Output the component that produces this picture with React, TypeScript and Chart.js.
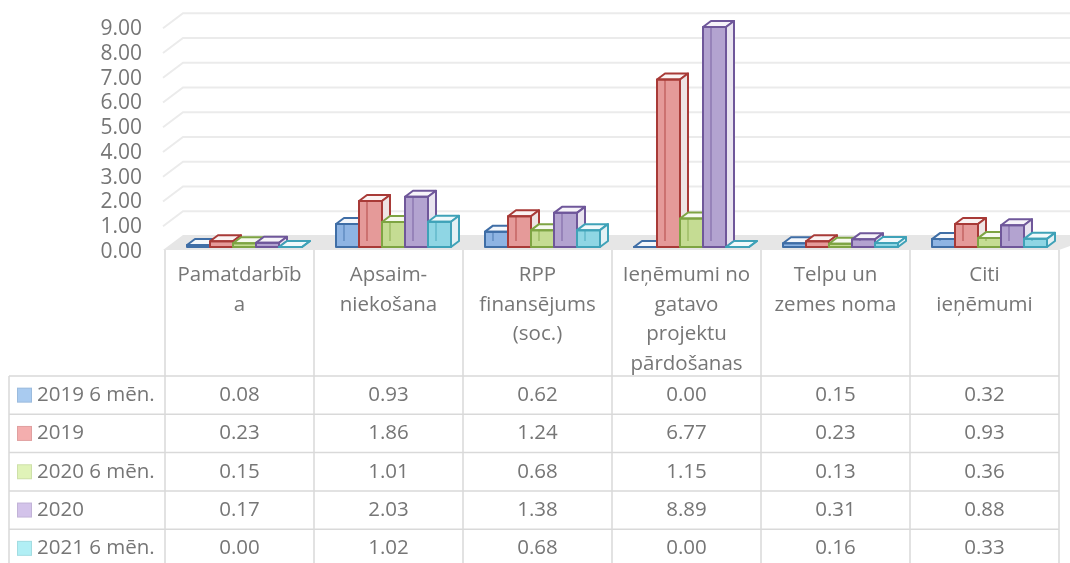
import React, { useEffect, useRef } from "react";
import { Chart, registerables } from "chart.js";

Chart.register(...registerables);

// ---------- DATA ----------
const categories: string[][] = [
  ["Pamatdarbīb", "a"],
  ["Apsaim-", "niekošana"],
  ["RPP", "finansējums", "(soc.)"],
  ["Ieņēmumi no", "gatavo", "projektu", "pārdošanas"],
  ["Telpu un", "zemes noma"],
  ["Citi", "ieņēmumi"],
];
const seriesNames = ["2019 6 mēn.", "2019", "2020 6 mēn.", "2020", "2021 6 mēn."];
const s2019h1 = [0.08, 0.93, 0.62, 0.0, 0.15, 0.32];
const s2019 = [0.23, 1.86, 1.24, 6.77, 0.23, 0.93];
const s2020h1 = [0.15, 1.01, 0.68, 1.15, 0.13, 0.36];
const s2020 = [0.17, 2.03, 1.38, 8.89, 0.31, 0.88];
const s2021h1 = [0.0, 1.02, 0.68, 0.0, 0.16, 0.33];
const yTicks = [0, 1, 2, 3, 4, 5, 6, 7, 8, 9];

// ---------- STYLE ----------
const FONT = "'Open Sans', 'DejaVu Sans', sans-serif";
const TEXT = "#767676";
const FS = 20.5;
const fronts = ["#8eb4e3", "#e59a99", "#c5dc93", "#b3a3d0", "#8fd6e4"];
const borders = ["#3f6ea6", "#a83a37", "#7ea443", "#6f579a", "#3fa2b8"];
const tops = ["#f4f7fb", "#faf3f3", "#f6f9ef", "#f6f3f9", "#f1f9fb"];
const sides = ["#e6ecf4", "#eee4e4", "#ecf1e2", "#e9e4f0", "#e3f1f4"];
const swatches = ["#a9cbf0", "#f4aeae", "#e0f3b8", "#d3c3ea", "#b1eff5"];
const allSeries = [s2019h1, s2019, s2020h1, s2020, s2021h1];

const SHIFT = 5; // bar group offset vs table columns
const DX = 8;
const DY = -6;

const threeD = {
  id: "threeD",
  beforeDatasetsDraw(chart: any) {
    const ctx = chart.ctx as CanvasRenderingContext2D;
    const ys = chart.scales.y;
    const area = chart.chartArea;
    const y0 = ys.getPixelForValue(0);
    const wallX = area.left - SHIFT - 2;
    const W = chart.width;
    ctx.save();
    // floor
    ctx.fillStyle = "#e6e6e6";
    ctx.beginPath();
    ctx.moveTo(wallX, y0 + 3);
    ctx.lineTo(wallX + 20, y0 - 12);
    ctx.lineTo(W + 30, y0 - 12);
    ctx.lineTo(area.right - SHIFT, y0 + 3);
    ctx.closePath();
    ctx.fill();
    // gridlines
    ctx.strokeStyle = "#ebebeb";
    ctx.lineWidth = 2;
    for (const v of yTicks) {
      if (v === 0) continue;
      const by = ys.getPixelForValue(v) - 11;
      ctx.beginPath();
      ctx.moveTo(wallX, by + 15);
      ctx.lineTo(wallX + 20, by);
      ctx.lineTo(W, by);
      ctx.stroke();
    }
    // y tick labels, aligned with the front-left end of each gridline
    ctx.fillStyle = TEXT;
    ctx.font = `21px ${FONT}`;
    ctx.textAlign = "right";
    ctx.textBaseline = "middle";
    for (const v of yTicks) {
      ctx.fillText(v.toFixed(2), 142, ys.getPixelForValue(v) + 5);
    }
    // boxes
    const metas = chart.data.datasets.map((_: any, i: number) => chart.getDatasetMeta(i));
    const n = chart.data.labels.length;
    ctx.lineJoin = "round";
    for (let c = 0; c < n; c++) {
      for (let d = 0; d < metas.length; d++) {
        const el = metas[d].data[c];
        const p = el.getProps(["x", "y", "base", "width"], true);
        const l = p.x - p.width / 2;
        const r = p.x + p.width / 2;
        const t = p.y;
        const b = p.base;
        ctx.fillStyle = fronts[d];
        ctx.fillRect(l, t, r - l, b - t);
        if (b - t > 4) {
          ctx.strokeStyle = borders[d];
          ctx.globalAlpha = 0.6;
          ctx.lineWidth = 1.4;
          ctx.beginPath();
          ctx.moveTo(l + DX, t + DY);
          ctx.lineTo(l + DX, b + DY);
          ctx.stroke();
          ctx.globalAlpha = 1;
        }
        ctx.lineWidth = 2;
        ctx.strokeStyle = borders[d];
        ctx.fillStyle = tops[d];
        ctx.beginPath();
        ctx.moveTo(l, t);
        ctx.lineTo(l + DX, t + DY);
        ctx.lineTo(r + DX, t + DY);
        ctx.lineTo(r, t);
        ctx.closePath();
        ctx.fill();
        ctx.stroke();
        ctx.fillStyle = sides[d];
        ctx.beginPath();
        ctx.moveTo(r, t);
        ctx.lineTo(r + DX, t + DY);
        ctx.lineTo(r + DX, b + DY);
        ctx.lineTo(r, b);
        ctx.closePath();
        ctx.fill();
        ctx.stroke();
        ctx.strokeRect(l, t, r - l, b - t);
      }
    }
    ctx.restore();
    return false;
  },
};

const dataTable = {
  id: "dataTable",
  afterDraw(chart: any) {
    const ctx = chart.ctx as CanvasRenderingContext2D;
    const xs = chart.scales.x;
    const ys = chart.scales.y;
    const n = categories.length;
    const catW = xs.width / n;
    const colL = (i: number) => xs.left - SHIFT + i * catW;
    const top = ys.getPixelForValue(0) + 3;
    const headH = 126;
    const rowH = 38.3;
    const leftX = 9;
    const rowsTop = top + headH;
    const bottom = rowsTop + rowH * seriesNames.length;
    ctx.save();
    ctx.strokeStyle = "#d9d9d9";
    ctx.lineWidth = 1.5;
    for (let i = 0; i <= n; i++) {
      const x = colL(i);
      ctx.beginPath();
      ctx.moveTo(x, top);
      ctx.lineTo(x, bottom);
      ctx.stroke();
    }
    ctx.beginPath();
    ctx.moveTo(leftX, rowsTop);
    ctx.lineTo(leftX, bottom);
    ctx.stroke();
    for (let r = 0; r <= seriesNames.length; r++) {
      const y = rowsTop + r * rowH;
      ctx.beginPath();
      ctx.moveTo(leftX, y);
      ctx.lineTo(colL(n), y);
      ctx.stroke();
    }
    ctx.fillStyle = TEXT;
    ctx.font = `${FS}px ${FONT}`;
    ctx.textBaseline = "middle";
    ctx.textAlign = "center";
    categories.forEach((lines, i) => {
      const cx = colL(i) + catW / 2;
      lines.forEach((ln, k) => {
        ctx.fillText(ln, cx, top + 25 + k * 29.7);
      });
    });
    seriesNames.forEach((name, r) => {
      const cy = rowsTop + r * rowH + rowH / 2;
      ctx.fillStyle = swatches[r];
      ctx.fillRect(17, cy - 7.5, 15, 15);
      ctx.strokeStyle = "rgba(0,0,0,0.08)";
      ctx.lineWidth = 1;
      ctx.strokeRect(17.5, cy - 7, 14, 14);
      ctx.fillStyle = TEXT;
      ctx.textAlign = "left";
      ctx.fillText(name, 37, cy);
      ctx.textAlign = "center";
      allSeries[r].forEach((v, i) => {
        ctx.fillText(v.toFixed(2), colL(i) + catW / 2, cy);
      });
    });
    ctx.restore();
  },
};

export default function App() {
  const ref = useRef<HTMLCanvasElement | null>(null);
  useEffect(() => {
    if (!ref.current) return;
    const chart = new Chart(ref.current, {
      type: "bar",
      data: {
        labels: categories,
        datasets: seriesNames.map((name, i) => ({
          label: name,
          data: allSeries[i],
          backgroundColor: fronts[i],
          borderColor: borders[i],
          categoryPercentage: 115 / 149,
          barPercentage: 1,
        })),
      },
      options: {
        responsive: false,
        animation: false,
        devicePixelRatio: 1,
        layout: { padding: { top: 24.25, bottom: 316, left: 0, right: 6 } },
        plugins: { legend: { display: false }, tooltip: { enabled: false } },
        scales: {
          x: { display: false },
          y: {
            min: 0,
            max: 9,
            afterBuildTicks: (s: any) => {
              s.ticks = yTicks.map((v) => ({ value: v }));
            },
            afterFit: (s: any) => {
              s.width = 170;
              s.paddingTop = 0;
              s.paddingBottom = 0;
            },
            ticks: { display: false },
            grid: { display: false, drawTicks: false },
            border: { display: false },
          },
        },
      },
      plugins: [threeD, dataTable],
    });
    return () => chart.destroy();
  }, []);
  return (
    <div style={{ position: "fixed", left: 0, top: 0, width: 1070, height: 563, background: "#fff" }}>
      <canvas ref={ref} width={1070} height={563} style={{ display: "block" }} />
    </div>
  );
}
